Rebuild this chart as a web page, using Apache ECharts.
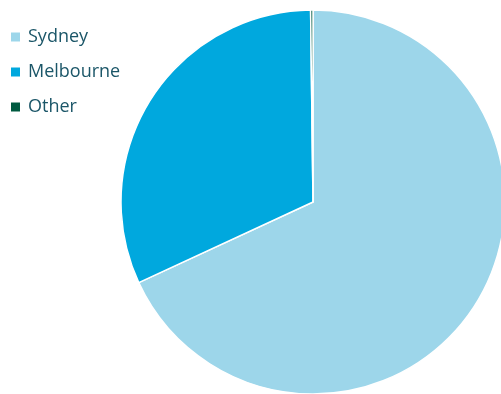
<!DOCTYPE html>
<html>
<head>
<meta charset="utf-8">
<script src="https://cdn.jsdelivr.net/npm/echarts@6/dist/echarts.min.js"></script>
<style>
  html, body { margin: 0; padding: 0; background: #ffffff; }
  #chart { width: 501px; height: 394px; }
</style>
</head>
<body>
<div id="chart"></div>
<script>
// City shares (percent)
const categories = ['Sydney', 'Melbourne', 'Other'];
const values = [68.1, 31.7, 0.2];
const colors = ['#9dd6ea', '#00a8de', '#005a40'];

const chart = echarts.init(document.getElementById('chart'), null, { renderer: 'canvas' });

chart.setOption({
  animation: false,
  color: colors,
  legend: {
    orient: 'vertical',
    left: 9,
    top: 28,
    padding: 0,
    icon: 'rect',
    itemWidth: 11,
    itemHeight: 11,
    itemGap: 17,
    textStyle: { fontFamily: 'Open Sans', fontSize: 18, color: '#1b5668', padding: [0, 0, 0, 2] },
    data: categories
  },
  series: [{
    type: 'pie',
    center: [313, 202],
    radius: [0, 192],
    startAngle: 90,
    clockwise: true,
    label: { show: false },
    labelLine: { show: false },
    itemStyle: { borderColor: '#ffffff', borderWidth: 1.5 },
    data: categories.map((c, i) => ({ name: c, value: values[i] }))
  }]
});
</script>
</body>
</html>
